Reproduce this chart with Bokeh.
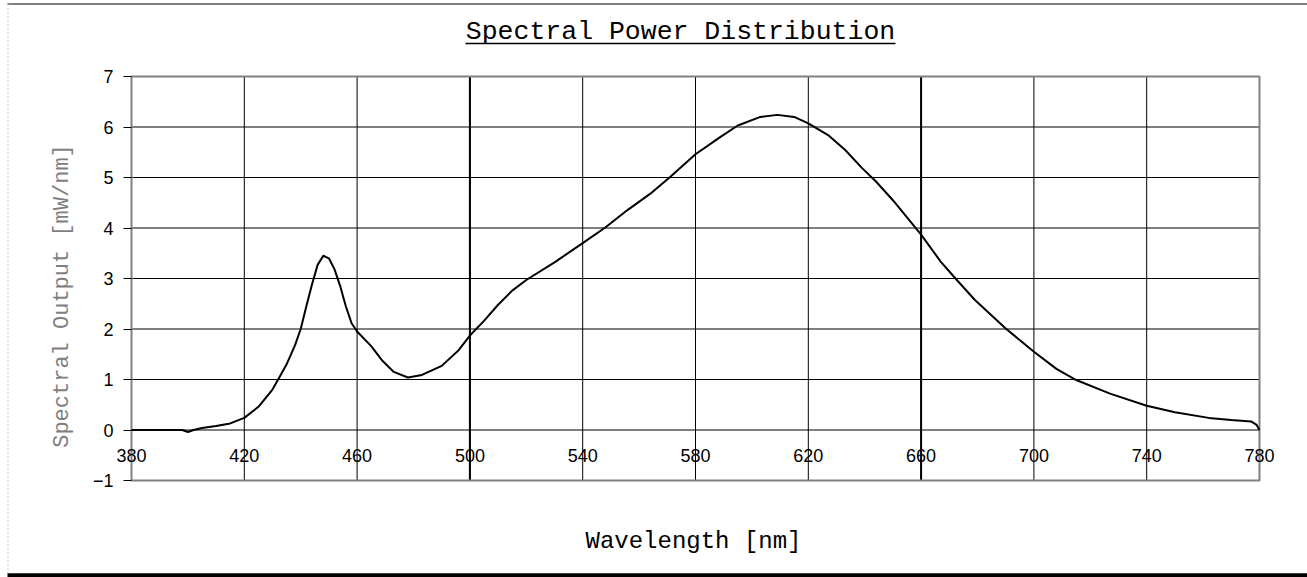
import math
from bokeh.plotting import figure
from bokeh.models import FixedTicker, Label, Range1d
from bokeh.embed import file_html
from bokeh.resources import INLINE

# ---- data ----
wavelength = [380, 390, 398, 400, 402, 405, 410, 415, 420, 425, 430, 433, 435, 438,
              440, 442, 444, 446, 448, 450, 452, 454, 456, 458, 460, 465, 469, 473,
              478, 483, 490, 496, 500, 505, 510, 515, 520, 530, 540, 548, 556, 564,
              571, 580, 589, 595, 603, 609, 615, 620, 627, 633, 639, 644, 650, 660,
              667, 673, 679, 690, 700, 708, 715, 727, 740, 750, 762, 770, 777, 779, 780]
output = [0.0, 0.0, 0.0, -0.04, 0.0, 0.04, 0.08, 0.13, 0.24, 0.46, 0.80, 1.10, 1.30, 1.68,
          2.00, 2.45, 2.88, 3.27, 3.45, 3.40, 3.18, 2.85, 2.45, 2.12, 1.95, 1.66, 1.37, 1.15,
          1.04, 1.09, 1.27, 1.58, 1.87, 2.16, 2.48, 2.76, 2.97, 3.32, 3.70, 4.01, 4.36, 4.68,
          5.01, 5.46, 5.81, 6.03, 6.20, 6.24, 6.20, 6.07, 5.84, 5.55, 5.19, 4.92, 4.55, 3.87,
          3.33, 2.95, 2.58, 2.01, 1.55, 1.21, 0.99, 0.72, 0.48, 0.35, 0.24, 0.20, 0.17, 0.10, 0.0]

x_min, x_max = 380, 780
y_min, y_max = -1, 7
x_ticks = [380, 420, 460, 500, 540, 580, 620, 660, 700, 740, 780]
y_ticks = [-1, 0, 1, 2, 3, 4, 5, 6, 7]
heavy_lines = [500, 660]

title_text = "Spectral Power Distribution"
x_label = "Wavelength [nm]"
y_label = "Spectral Output [mW/nm]"

MONO = "Liberation Mono"
SANS = "Liberation Sans"

# ---- layout (canvas pixels) ----
W, H = 1307, 577
PLOT_L, PLOT_T = 131, 76          # canvas px of the plot area's left / top edge
PX_X = 1128 / (x_max - x_min)     # px per nm
PX_Y = 404 / (y_max - y_min)      # px per unit


def dx(px):
    return x_min + (px - PLOT_L) / PX_X


def dy(py):
    return y_max - (py - PLOT_T) / PX_Y


p = figure(width=W, height=H, x_range=Range1d(dx(0), dx(W)), y_range=Range1d(dy(H), dy(0)),
           output_backend="svg", toolbar_location=None, title=None,
           min_border=0, min_border_left=0, min_border_right=0,
           min_border_top=0, min_border_bottom=0)
p.background_fill_color = "white"
p.border_fill_color = "white"
p.outline_line_color = None
p.xgrid.visible = False
p.ygrid.visible = False

# x axis crossing at y = 0 (labels only)
p.xaxis.fixed_location = 0
p.xaxis.bounds = (x_min, x_max)
p.xaxis.ticker = FixedTicker(ticks=x_ticks)
p.xaxis.axis_line_color = None
p.xaxis.major_tick_line_color = None
p.xaxis.minor_tick_line_color = None
p.xaxis.major_tick_out = 0
p.xaxis.major_tick_in = 0
p.xaxis.major_label_text_font = SANS
p.xaxis.major_label_text_font_size = "18px"
p.xaxis.major_label_text_color = "black"
p.xaxis.major_label_standoff = 19

# y axis at x = 380
p.yaxis.fixed_location = x_min
p.yaxis.bounds = (y_min, y_max)
p.yaxis.ticker = FixedTicker(ticks=y_ticks)
p.yaxis.axis_line_color = None
p.yaxis.major_tick_line_color = "black"
p.yaxis.major_tick_out = 8
p.yaxis.major_tick_in = 0
p.yaxis.minor_tick_line_color = None
p.yaxis.major_label_text_font = SANS
p.yaxis.major_label_text_font_size = "18px"
p.yaxis.major_label_text_color = "black"
p.yaxis.major_label_standoff = 10

# grid lines from the tick arrays
p.segment(x0=[x_min] * len(y_ticks), x1=[x_max] * len(y_ticks), y0=y_ticks, y1=y_ticks,
          line_color="black", line_width=1)
p.segment(x0=x_ticks, x1=x_ticks, y0=[y_min] * len(x_ticks), y1=[y_max] * len(x_ticks),
          line_color="black", line_width=1)
p.segment(x0=heavy_lines, x1=heavy_lines, y0=[y_min] * len(heavy_lines),
          y1=[y_max] * len(heavy_lines), line_color="black", line_width=2)

# plot-area border
p.quad(left=[x_min], right=[x_max], bottom=[y_min], top=[y_max], fill_color=None,
       line_color="#808080", line_width=2)

# the spectrum
p.line(wavelength, output, line_color="black", line_width=2)

# title with underline
p.add_layout(Label(x=dx(680), y=dy(31), text=title_text, text_align="center",
                   text_baseline="alphabetic", text_font=MONO, text_font_size="26.5px",
                   text_color="black"))
p.segment(x0=[dx(465)], x1=[dx(895)], y0=[dy(43)], y1=[dy(43)], line_color="black",
          line_width=1.5)

# axis titles
p.add_layout(Label(x=dx(693), y=dy(541), text=x_label, text_align="center",
                   text_baseline="alphabetic", text_font=MONO, text_font_size="24px",
                   text_color="black"))
p.add_layout(Label(x=dx(62), y=dy(295.5), text=y_label, text_align="center",
                   text_baseline="middle", angle=math.pi / 2, text_font=MONO,
                   text_font_size="22px", text_color="#7f7f7f"))

# page frame lines
p.segment(x0=[dx(7)], x1=[dx(W)], y0=[dy(3.5)], y1=[dy(3.5)], line_color="black",
          line_width=1)
p.segment(x0=[dx(7)], x1=[dx(W)], y0=[dy(574.7)], y1=[dy(574.7)], line_color="black",
          line_width=4)
p.segment(x0=[dx(7.5)], x1=[dx(7.5)], y0=[dy(3.5)], y1=[dy(572.7)], line_color="#c8c8c8",
          line_width=1, line_dash="2 2")

open("out.html", "w").write(file_html(p, INLINE))
